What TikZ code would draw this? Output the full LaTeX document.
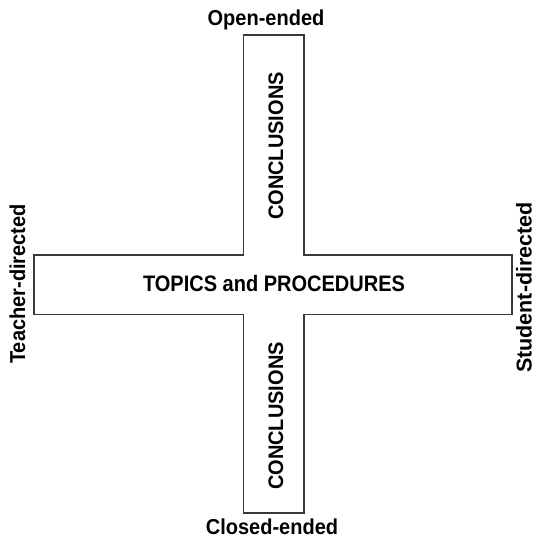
\documentclass[tikz,border=0pt]{standalone}
\usepackage{fontspec}
\setmainfont{Liberation Sans}
\begin{document}
\begin{tikzpicture}[x=1bp,y=-1bp,
  lbl/.style={font=\bfseries\fontsize{20bp}{24bp}\selectfont, inner sep=0pt, anchor=base},
  outline/.style={draw=black!78, line width=1.3bp}]
\useasboundingbox (0,0) rectangle (535,539);
\draw[outline] (243.5,35) -- (304,35) -- (304,255) -- (512,255) -- (512,314.5)
  -- (304,314.5) -- (304,513) -- (243.5,513) -- (243.5,314.5) -- (34,314.5)
  -- (34,255) -- (243.5,255) -- cycle;
\node[lbl] (open) at (266,25.5) {\scalebox{1}[1.08]{Open-ended}};
\node[lbl] (closed) at (272,534.5) {\scalebox{1}[1.08]{Closed-ended}};
\node[lbl, rotate=90] (teacher) at (25,284) {\scalebox{1}[1.08]{Teacher-directed}};
\node[lbl, rotate=90, font=\bfseries\fontsize{21.5bp}{26bp}\selectfont] (student) at (531.5,287.5) {Student-directed};
\node[lbl] (topics) at (274,291.5) {\scalebox{1}[1.12]{TOPICS and PROCEDURES}};
\node[lbl, rotate=90] (concl1) at (283,146) {\scalebox{1}[1.05]{CONCLUSIONS}};
\node[lbl, rotate=90] (concl2) at (283,416) {\scalebox{1}[1.05]{CONCLUSIONS}};
\end{tikzpicture}
\end{document}
